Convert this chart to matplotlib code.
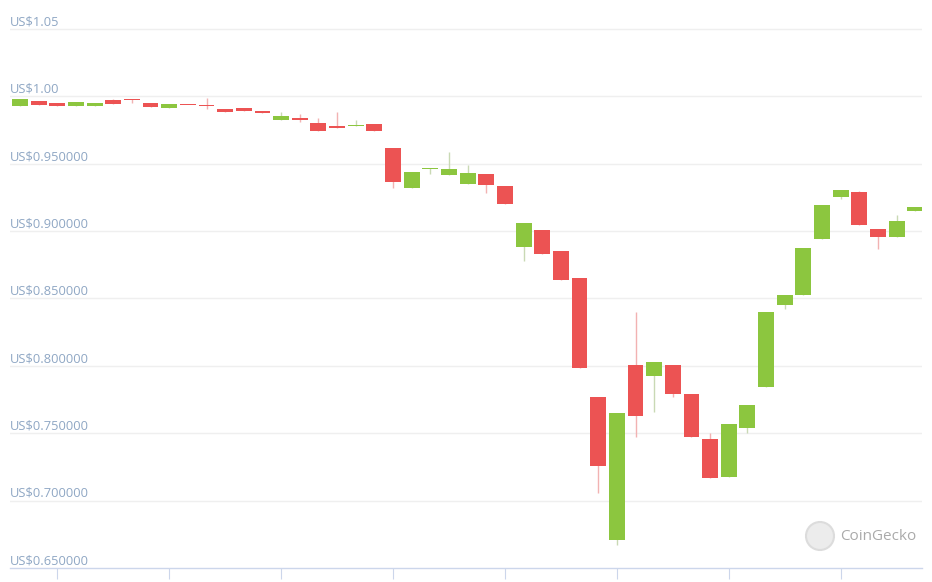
import numpy as np
import matplotlib
matplotlib.use('Agg')
import matplotlib.pyplot as plt
from matplotlib.patches import Circle

#candle data, one entry per candle (open, high, low, close)
opens = [0.9929, 0.9966, 0.9951, 0.9929, 0.9929, 0.9973, 0.9975, 0.9951, 0.9914, 0.9938,
         0.9936, 0.9906, 0.9914, 0.9892, 0.9825, 0.9840, 0.9803, 0.9780, 0.9778, 0.9795,
         0.9617, 0.9320, 0.9459, 0.9417, 0.9350, 0.9424, 0.9335, 0.8882, 0.9009, 0.8853,
         0.8652, 0.7769, 0.6708, 0.8007, 0.7925, 0.8007, 0.7792, 0.7458, 0.7176, 0.7539,
         0.7844, 0.8452, 0.8526, 0.8944, 0.9253, 0.9290, 0.9016, 0.8957, 0.9149]
highs = [0.9981, 0.9966, 0.9951, 0.9958, 0.9951, 0.9981, 0.9980, 0.9951, 0.9944, 0.9938,
         0.9989, 0.9906, 0.9914, 0.9892, 0.9884, 0.9870, 0.9840, 0.9884, 0.9825, 0.9795,
         0.9617, 0.9439, 0.9470, 0.9587, 0.9491, 0.9424, 0.9335, 0.9060, 0.9009, 0.8853,
         0.8652, 0.7769, 0.7651, 0.8400, 0.8029, 0.8007, 0.7792, 0.7502, 0.7569, 0.7710,
         0.8400, 0.8526, 0.8875, 0.9194, 0.9305, 0.9300, 0.9016, 0.9120, 0.9179]
lows = [0.9929, 0.9936, 0.9929, 0.9929, 0.9929, 0.9944, 0.9951, 0.9921, 0.9914, 0.9934,
        0.9906, 0.9884, 0.9892, 0.9877, 0.9825, 0.9810, 0.9743, 0.9765, 0.9778, 0.9743,
        0.9320, 0.9320, 0.9424, 0.9417, 0.9350, 0.9283, 0.9202, 0.8779, 0.8831, 0.8638,
        0.7985, 0.7057, 0.6671, 0.7473, 0.7658, 0.7770, 0.7473, 0.7168, 0.7176, 0.7502,
        0.7844, 0.8422, 0.8526, 0.8944, 0.9240, 0.9046, 0.8868, 0.8957, 0.9149]
closes = [0.9981, 0.9936, 0.9929, 0.9958, 0.9951, 0.9944, 0.9970, 0.9921, 0.9944, 0.9934,
          0.9925, 0.9884, 0.9892, 0.9877, 0.9855, 0.9825, 0.9743, 0.9765, 0.9782, 0.9743,
          0.9365, 0.9439, 0.9463, 0.9461, 0.9431, 0.9342, 0.9202, 0.9060, 0.8831, 0.8638,
          0.7985, 0.7257, 0.7651, 0.7628, 0.8029, 0.7792, 0.7473, 0.7168, 0.7569, 0.7710,
          0.8400, 0.8526, 0.8875, 0.9194, 0.9305, 0.9046, 0.8957, 0.9075, 0.9179]

#axis labels
y_ticks = [1.05, 1.00, 0.95, 0.90, 0.85, 0.80, 0.75, 0.70, 0.65]
y_labels = ['US$1.05', 'US$1.00', 'US$0.950000', 'US$0.900000', 'US$0.850000',
            'US$0.800000', 'US$0.750000', 'US$0.700000', 'US$0.650000']
x_tick_pos = [2, 8, 14, 20, 26, 32, 38, 44]
x_tick_labels = ['12:00', '18:00', '9. May', '06:00', '12:00', '18:00', '10. May', '06:00']

green = '#8cc63f'
red = '#ec5353'
label_color = '#8fa7c4'

plt.rcParams['font.family'] = ['Open Sans', 'DejaVu Sans']

fig = plt.figure(figsize=(9.32, 5.82), dpi=100)
ax = fig.add_axes([10/932, 14/582, 912/932, 568/582])

n = len(opens)
x = np.arange(n)
o = np.array(opens)
h = np.array(highs)
l = np.array(lows)
c = np.array(closes)
up = c >= o

#wicks first so the bodies sit on top
for i in range(n):
    wick_col = '#c9d9b4' if up[i] else '#f2b2b2'
    ax.vlines(x[i], l[i], h[i], color=wick_col, linewidth=1, zorder=2)

#bodies, with a minimum height so doji candles still show
body_bottom = np.minimum(o, c)
body_height = np.maximum(np.abs(c - o), 0.0009)
colors = [green if u else red for u in up]
ax.bar(x, body_height, bottom=body_bottom, width=0.85, color=colors, linewidth=0, zorder=3)

ax.set_xlim(-0.536, 48.36)
ax.set_ylim(0.65, 1.0715)

#light horizontal grid
for v in y_ticks[:-1]:
    ax.axhline(v, color='#efefef', linewidth=1, zorder=1)

#price labels sit just above their grid line, inside the plot
for v, lab in zip(y_ticks, y_labels):
    ax.annotate(lab, xy=(-0.536, v), xytext=(0, 0.5), textcoords='offset points',
                ha='left', va='bottom', fontsize=9.3, color=label_color, zorder=4)

ax.set_yticks([])
for s in ['top', 'right', 'left']:
    ax.spines[s].set_visible(False)
ax.spines['bottom'].set_color('#ccd6eb')
ax.spines['bottom'].set_linewidth(1)

#date ticks, the labels run off the bottom edge like in the original screenshot
ax.set_xticks(x_tick_pos)
ax.set_xticklabels(x_tick_labels, fontsize=9, color='#a0a8b4')
ax.tick_params(axis='x', length=8, color='#ccd6eb', pad=2)

#CoinGecko watermark
logo = Circle((820/932, 1 - 536/582), 14/932, transform=fig.transFigure,
              facecolor='#ececec', edgecolor='#dcdcdc', linewidth=1.5, zorder=5)
# keep it round: scale the height by the figure aspect
logo.set_transform(fig.dpi_scale_trans)
logo.center = (8.20, 5.82 - 5.36)
logo.radius = 0.14
fig.patches.append(logo)
fig.text(840/932, 1 - 536/582, 'CoinGecko', fontsize=11, color='#aaaaaa',
         ha='left', va='center')

plt.savefig('out.png', dpi=100)
